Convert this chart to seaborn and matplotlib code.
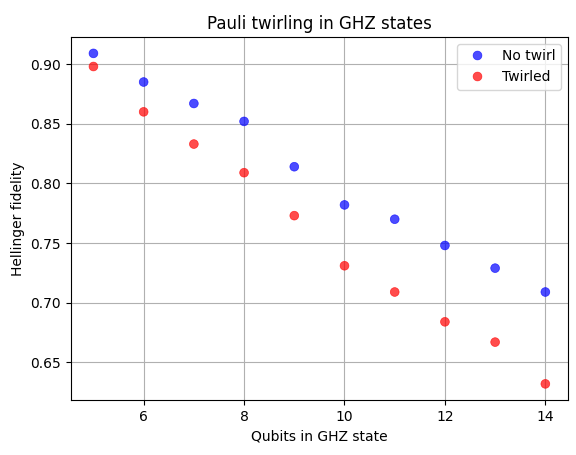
import matplotlib
matplotlib.use("Agg")
import matplotlib.pyplot as plt
import seaborn as sns
import pandas as pd

qubits = [5, 6, 7, 8, 9, 10, 11, 12, 13, 14]
no_twirl = [0.909, 0.885, 0.867, 0.852, 0.814, 0.782, 0.770, 0.748, 0.729, 0.709]
twirled = [0.898, 0.860, 0.833, 0.809, 0.773, 0.731, 0.709, 0.684, 0.667, 0.632]

df = pd.DataFrame({
    "q": qubits * 2,
    "f": no_twirl + twirled,
    "s": ["No twirl"] * len(qubits) + ["Twirled"] * len(qubits),
})

fig, ax = plt.subplots(figsize=(5.76, 4.55), dpi=100)
sns.scatterplot(data=df, x="q", y="f", hue="s", palette={"No twirl": "blue", "Twirled": "red"},
                alpha=0.7, s=40, edgecolor=None, ax=ax)
ax.grid(True)
ax.set_axisbelow(True)
ax.set_xlabel("Qubits in GHZ state")
ax.set_ylabel("Hellinger fidelity")
ax.set_title("Pauli twirling in GHZ states")
ax.legend(title=None, loc="upper right")
fig.subplots_adjust(left=0.123, right=0.986, top=0.919, bottom=0.12)
fig.savefig("out.png", dpi=100)
